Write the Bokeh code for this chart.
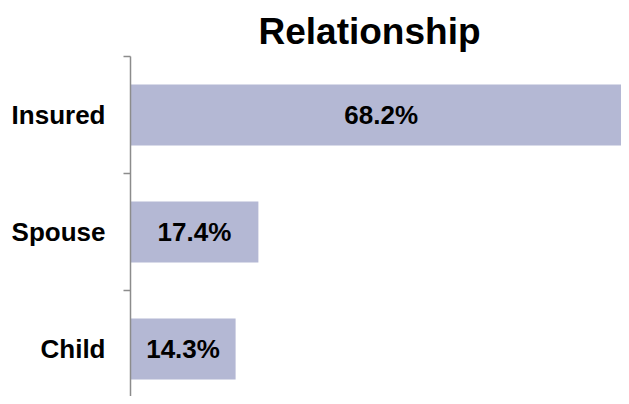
from bokeh.plotting import figure
from bokeh.models import ColumnDataSource, FixedTicker, Range1d
from bokeh.core.properties import value
from bokeh.embed import file_html
from bokeh.resources import INLINE

categories = ["Insured", "Spouse", "Child"]
values = [68.2, 17.4, 14.3]
title_text = "Relationship"

n = len(categories)
ypos = [n - i - 0.5 for i in range(n)]
labels = [f"{v:.1f}%" for v in values]
src = ColumnDataSource(dict(y=ypos, v=values, half=[v / 2 for v in values], lab=labels))

FONT = "Liberation Sans"
p = figure(width=621, height=396, output_backend="svg", toolbar_location=None,
           x_range=Range1d(0, 491 / 7.35), y_range=Range1d(3 - 340 / 117, 3),
           min_border_left=130, min_border_right=0, min_border_bottom=0, min_border_top=56,
           x_axis_location=None)
p.outline_line_color = None
p.grid.visible = False

p.hbar(y="y", right="v", left=0, height=0.52, source=src,
       fill_color="#B4B8D4", line_color=None)
p.text(x="half", y="y", text="lab", source=src, text_align="center", text_baseline="middle",
       text_font=value(FONT), text_font_style="bold", text_font_size="26px", text_color="black")

ax = p.yaxis[0]
ax.ticker = FixedTicker(ticks=ypos, minor_ticks=[0, 1, 2, 3])
ax.major_label_overrides = {y: c for y, c in zip(ypos, categories)}
ax.major_tick_line_color = None
ax.major_tick_out = 0
ax.major_tick_in = 0
ax.minor_tick_out = 7
ax.minor_tick_in = 0
ax.minor_tick_line_color = "#8c8c8c"
ax.minor_tick_line_width = 1.5
ax.axis_line_color = "#8c8c8c"
ax.axis_line_width = 1.5
ax.major_label_standoff = 18
ax.major_label_text_font = FONT
ax.major_label_text_font_style = "bold"
ax.major_label_text_font_size = "26px"
ax.major_label_text_color = "black"

p.title.text = title_text
p.title.align = "left"
p.title.offset = 128
p.title.text_font = FONT
p.title.text_font_style = "bold"
p.title.text_font_size = "37px"
p.title.text_color = "black"

open("out.html", "w").write(file_html(p, INLINE))
